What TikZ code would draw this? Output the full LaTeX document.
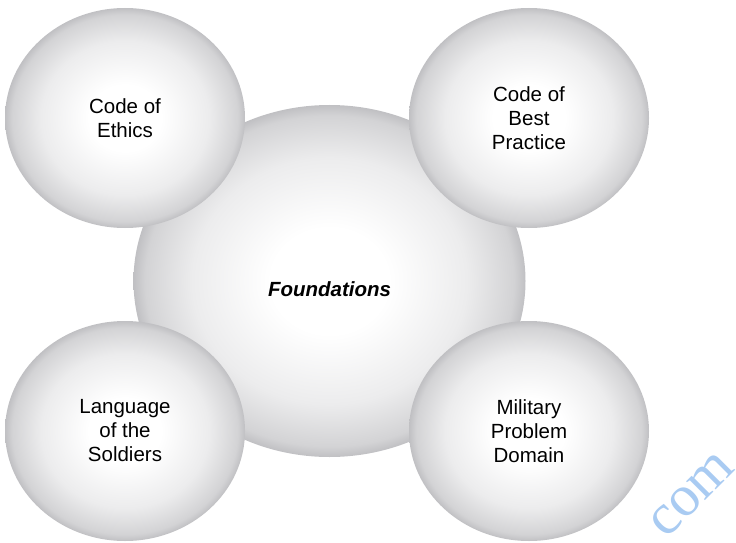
\documentclass[tikz,border=0pt]{standalone}
\usepackage{fontspec}
\setmainfont{Liberation Sans}
\newfontfamily\wmfont{Liberation Serif}
\usetikzlibrary{shapes.geometric}
\definecolor{shA}{HTML}{ECECED}
\definecolor{shB}{HTML}{D3D3D5}
\definecolor{shC}{HTML}{C0C0C3}
\definecolor{wmblue}{HTML}{A9CBF2}
\pgfdeclareradialshading{ball}{\pgfpoint{0bp}{0bp}}{color(0bp)=(white); color(7.5bp)=(white); color(17.5bp)=(shA); color(23.5bp)=(shB); color(25bp)=(shC); color(50bp)=(shC)}
\tikzset{
  ballnode/.style={ellipse, shading=ball, draw=none, inner sep=0pt, align=center,
    font=\fontsize{20.5}{24}\selectfont, text=black},
  smallball/.style={ballnode, minimum width=240pt, minimum height=220pt},
  bigball/.style={ballnode, minimum width=392pt, minimum height=352pt},
  watermark/.style={rotate=45, text=wmblue, font=\wmfont\fontsize{58}{58}\selectfont}
}
\begin{document}
\begin{tikzpicture}[x=1pt,y=1pt]
\useasboundingbox (0,0) rectangle (736,542);
\node[bigball] (found) at (329.5,261) {};
\node[font=\bfseries\itshape\fontsize{20.5}{24}\selectfont, text=black] (flabel) at (329.5,253) {Foundations};
\node[smallball] (ethics) at (125,424) {Code of\\Ethics};
\node[smallball] (best) at (529,424) {Code of\\Best\\Practice};
\node[smallball] (lang) at (125,111) {Language\\of the\\Soldiers};
\node[smallball] (mil) at (529,111) {Military\\Problem\\Domain};
\node[watermark] (wm) at (692,47) {com};
\end{tikzpicture}
\end{document}
